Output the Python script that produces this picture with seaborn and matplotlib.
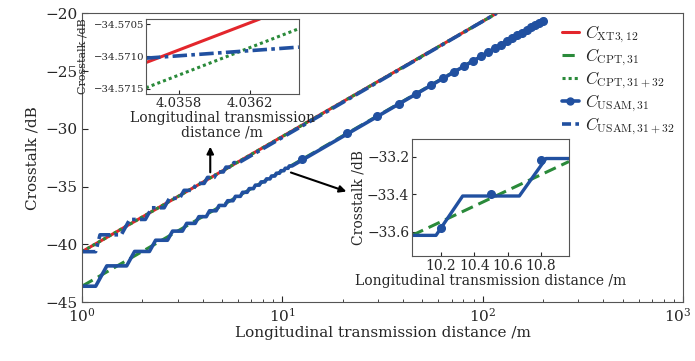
import numpy as np
import pandas as pd
import matplotlib
matplotlib.use("Agg")
import matplotlib.pyplot as plt
import matplotlib.transforms as mtransforms
from matplotlib.lines import Line2D
import seaborn as sns

# ---------------- data ----------------
# straight reference lines (end points, x in m, y in dB)
xt_x = [1.0, 117.0]
xt_y = [-40.63, -20.0]
cpt3132_x = [1.0, 117.0]
cpt3132_y = [-40.63, -20.0]
cpt31_x = [1.0, 204.0]
cpt31_y = [-43.62, -20.52]

# USAM,31 staircase: plateau centres and plateau levels, then end point
usam31_centres = [1.0, 1.5, 2.0, 2.5, 3.0, 3.5, 4.0, 4.5, 5.0, 5.5, 6.0, 6.5,
                  7.0, 7.5, 8.0, 8.5, 9.0, 9.5, 10.0, 10.5, 11.0]
usam31_levels = [-43.62, -41.86, -40.61, -39.64, -38.85, -38.18, -37.60, -37.09,
                 -36.63, -36.22, -35.84, -35.49, -35.17, -34.87, -34.59, -34.33,
                 -34.08, -33.84, -33.62, -33.41, -33.21]
usam31_end = (204.0, -20.52)
usam31_mark_x = [12.5, 21, 29.5, 38, 46.5, 55, 63.5, 72, 80.5, 89, 97.5, 106,
                 114.5, 123, 131.5, 140, 148.5, 157, 165.5, 174, 182.5, 191, 199.5]
usam31_mark_y = [-32.65, -30.40, -28.92, -27.82, -26.95, -26.22, -25.59, -25.05,
                 -24.56, -24.13, -23.73, -23.37, -23.03, -22.72, -22.43, -22.16,
                 -21.90, -21.66, -21.43, -21.22, -21.01, -20.81, -20.62]

# USAM,31+32 staircase
usam3132_centres = [1.0, 1.4, 1.9, 2.4, 2.9, 3.4, 3.9, 4.4, 4.9, 5.4, 5.9]
usam3132_levels = [-40.63, -39.17, -37.84, -36.83, -36.01, -35.32, -34.72,
                   -34.20, -33.73, -33.31, -32.92]
usam3132_end = (117.0, -20.0)

# inset 1
in1_xt_x = [4.035614, 4.036256]
in1_xt_y = [-34.571094, -34.57042]
in1_cpt_x = [4.035614, 4.036476]
in1_cpt_y = [-34.571484, -34.57057]
in1_usam_x = [4.035614, 4.036476]
in1_usam_y = [-34.571026, -34.570855]

# inset 2
in2_cpt_x = [10.026, 10.968]
in2_cpt_y = [-33.62, -33.226]
in2_mark_x = [10.2, 10.5, 10.8]
in2_mark_y = [-33.58, -33.40, -33.22]

HALF = 0.17


def stair(centres, levels, end):
    xs, ys = [], []
    for c, v in zip(centres, levels):
        a = max(c - HALF, 1.0)
        xs += [a, c + HALF]
        ys += [v, v]
    xs.append(end[0]); ys.append(end[1])
    return pd.DataFrame({"x": xs, "y": ys})


RED = "#e3262c"
GREEN = "#2a8a3a"
BLUE = "#2150a0"
DOT = (0, (1, 1))
DASH = (0, (4, 2))
DASHDOT = (0, (4, 1.2, 1, 1.2))

sns.set_style("ticks")
plt.rcParams["font.family"] = ["DejaVu Serif"]
plt.rcParams["mathtext.fontset"] = "cm"
plt.rcParams["axes.edgecolor"] = "#555555"
plt.rcParams["xtick.direction"] = "in"
plt.rcParams["ytick.direction"] = "in"

fig = plt.figure(figsize=(6.95, 3.61), dpi=100)
ax = fig.add_axes([0.118, 0.163, 0.865, 0.80])

s31 = stair(usam31_centres, usam31_levels, usam31_end)
s3132 = stair(usam3132_centres, usam3132_levels, usam3132_end)

sns.lineplot(x=xt_x, y=xt_y, ax=ax, color=RED, lw=2.2, sort=False)
sns.lineplot(x=cpt31_x, y=cpt31_y, ax=ax, color=GREEN, lw=2.2, sort=False,
             linestyle=DASH)
sns.lineplot(x=cpt3132_x, y=cpt3132_y, ax=ax, color=GREEN, lw=2.2, sort=False,
             linestyle=DOT)
sns.lineplot(data=s31, x="x", y="y", ax=ax, color=BLUE, lw=2.6, sort=False)
sns.lineplot(data=s3132, x="x", y="y", ax=ax, color=BLUE, lw=2.6, sort=False,
             linestyle=DASHDOT)
ax.plot(usam31_mark_x, usam31_mark_y, "o", color=BLUE, ms=5.5, zorder=5)

ax.set_xscale("log")
ax.set_xlim(1, 1000)
ax.set_ylim(-45, -20)
ax.set_yticks([-45, -40, -35, -30, -25, -20])
ax.set_xlabel("Longitudinal transmission distance /m", fontsize=11, labelpad=1)
ax.set_ylabel("Crosstalk /dB", fontsize=11, labelpad=4)
ax.tick_params(labelsize=11, length=4, top=False, right=False)
ax.tick_params(which="minor", length=2.5, top=False, right=False)
fig.canvas.draw()
for lab in ax.get_xticklabels():
    if "3" in lab.get_text():
        lab.set_transform(lab.get_transform() +
                          mtransforms.ScaledTranslation(-5 / 100, 0, fig.dpi_scale_trans))

# legend
handles = [
    Line2D([], [], color=RED, lw=2.2),
    Line2D([], [], color=GREEN, lw=2.2, linestyle=DASH),
    Line2D([], [], color=GREEN, lw=2.2, linestyle=DOT),
    Line2D([], [], color=BLUE, lw=2.6, marker="o", ms=5),
    Line2D([], [], color=BLUE, lw=2.6, linestyle=(0, (2.5, 1.2))),
]
labels = [r"$C_{\mathrm{XT3,12}}$", r"$C_{\mathrm{CPT,31}}$",
          r"$C_{\mathrm{CPT,31+32}}$", r"$C_{\mathrm{USAM,31}}$",
          r"$C_{\mathrm{USAM,31+32}}$"]
ax.legend(handles, labels, loc="upper left", bbox_to_anchor=(0.782, 1.0),
          frameon=False, fontsize=12, handlelength=1.0, handletextpad=0.4,
          labelspacing=0.1, borderaxespad=0.2)

# arrows
ax.annotate("", xy=(4.365, -31.3), xytext=(4.365, -34.0),
            arrowprops=dict(arrowstyle="-|>", color="black", lw=1.5, mutation_scale=10))
ax.annotate("", xy=(21.5, -35.5), xytext=(10.7, -33.7),
            arrowprops=dict(arrowstyle="-|>", color="black", lw=1.5, mutation_scale=10))

# inset 1
ax1 = fig.add_axes([0.210, 0.7396, 0.220, 0.2078])
sns.lineplot(x=in1_xt_x, y=in1_xt_y, ax=ax1, color=RED, lw=2.2, sort=False)
sns.lineplot(x=in1_cpt_x, y=in1_cpt_y, ax=ax1, color=GREEN, lw=2.2, sort=False,
             linestyle=DOT)
sns.lineplot(x=in1_usam_x, y=in1_usam_y, ax=ax1, color=BLUE, lw=2.6, sort=False,
             linestyle=DASHDOT)
ax1.set_xlim(4.035614, 4.036476)
ax1.set_ylim(-34.57158, -34.57042)
ax1.set_xticks([4.0358, 4.0362])
ax1.set_xticklabels(["4.0358", "4.0362"])
ax1.set_yticks([-34.5715, -34.5710, -34.5705])
ax1.set_yticklabels(["\u221234.5715", "\u221234.5710", "\u221234.5705"])
ax1.tick_params(axis="x", labelsize=9.5, length=3, pad=2)
ax1.tick_params(axis="y", labelsize=7.3, length=3, pad=1)
ax1.set_xlabel("Longitudinal transmission\ndistance /m", fontsize=10,
               labelpad=1, linespacing=1.0)
ax1.set_ylabel("Crosstalk /dB", fontsize=8, labelpad=0)
ax1.yaxis.set_label_coords(-0.385, 0.5)

# inset 2
ax2 = fig.add_axes([0.5928, 0.2909, 0.2259, 0.324])
sns.lineplot(x=in2_cpt_x, y=in2_cpt_y, ax=ax2, color=GREEN, lw=2.2, sort=False,
             linestyle=DASH)
sns.lineplot(data=s31, x="x", y="y", ax=ax2, color=BLUE, lw=2.4, sort=False)
ax2.plot(in2_mark_x, in2_mark_y, "o", color=BLUE, ms=5.5, zorder=5)
ax2.set_xlim(10.026, 10.968)
ax2.set_ylim(-33.73, -33.106)
ax2.set_xticks([10.2, 10.4, 10.6, 10.8])
ax2.set_yticks([-33.6, -33.4, -33.2])
ax2.set_yticklabels(["\u221233.6", "\u221233.4", "\u221233.2"])
ax2.tick_params(labelsize=10, length=3, pad=2)
ax2.set_xlabel("Longitudinal transmission distance /m", fontsize=10, labelpad=1)
ax2.set_ylabel("Crosstalk /dB", fontsize=10, labelpad=1)
for a in (ax1, ax2):
    for sp in a.spines.values():
        sp.set_color("#555555")

fig.savefig("out.png", dpi=100)
